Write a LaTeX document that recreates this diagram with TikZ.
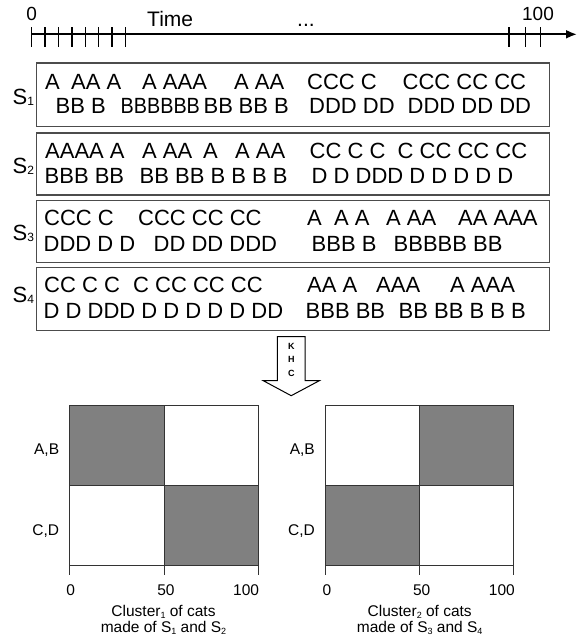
\documentclass[tikz,border=0pt]{standalone}
\usepackage{fontspec}
\setmainfont{Liberation Sans}
\usetikzlibrary{arrows.meta}
\newcommand\rowfont{\fontsize{22}{22}\selectfont}
\newcommand\labsub[1]{\raisebox{-1.5pt}{\fontsize{12}{12}\selectfont #1}}
\newcommand\smsub[1]{\raisebox{-2.5pt}{\fontsize{9}{9}\selectfont #1}}
\begin{document}
\begin{tikzpicture}[x=1pt,y=-1pt,
  seqbox/.style={draw=black!70, line width=1.4pt, inner sep=0pt, anchor=north west, minimum width=513pt},
  ev/.style={anchor=base west, inner sep=0pt, font=\rowfont},
  slab/.style={anchor=base west, inner sep=0pt, font=\rowfont},
  tickline/.style={line width=1.3pt},
  cell/.style={draw=black!80, line width=0.9pt, fill=white},
  darkcell/.style={draw=black!80, line width=0.9pt, fill=gray},
  lab/.style={inner sep=0pt, font=\fontsize{15.5}{15.5}\selectfont},
  toplab/.style={inner sep=0pt, anchor=base, font=\fontsize{19}{19}\selectfont}]
\useasboundingbox (0,0) rectangle (585,640);

% ---------- time axis ----------
\coordinate (t0) at (31.7,34.3);
\coordinate (tend) at (577,34.3);
\draw[line width=2pt, -{Latex[length=11pt,width=9pt]}] (t0) -- (tend);
\foreach \x in {31.7,45.1,58.5,71.9,85.3,98.7,112.1,125.5,509,525.7,540.7}
  \draw[tickline] (\x,27.3) -- (\x,47.3);
\node[toplab] (zero) at (31.7,20) {0};
\node[toplab] (hundred) at (538,20.5) {100};
\node[anchor=base west, inner sep=0pt, font=\fontsize{21}{21}\selectfont] (time) at (147,26.5) {Time};
\node[anchor=base west, inner sep=0pt, font=\fontsize{21}{21}\selectfont] (dots) at (297,26) {...};

% ---------- sequence boxes ----------
\node[seqbox, minimum height=63.4pt] (box1) at (36,62.3) {};
\node[seqbox, minimum height=62pt] (box2) at (36,132.3) {};
\node[seqbox, minimum height=62.5pt] (box3) at (36,199.5) {};
\node[seqbox, minimum height=63pt] (box4) at (36,267) {};

\node[slab] (s1) at (12.5,104) {S\labsub{1}};
\node[slab] (s2) at (12.5,173.3) {S\labsub{2}};
\node[slab] (s3) at (12.5,240) {S\labsub{3}};
\node[slab] (s4) at (12.5,302.3) {S\labsub{4}};

% S1
\node[ev] (b1a1) at (45,89.3) {A};
\node[ev] (b1a2) at (71,89.3) {AA A};
\node[ev] (b1a3) at (142,89.3) {A AAA};
\node[ev] (b1a4) at (234,89.3) {A AA};
\node[ev] (b1a5) at (307,89.3) {CCC C};
\node[ev] (b1a6) at (402.5,89.3) {CCC CC CC};
\node[ev] (b1b1) at (55.5,113.3) {BB B};
\node[ev] (b1b2) at (120.5,113.3) {\scalebox{0.9}[1]{BBBBBB}};
\node[ev] (b1b3) at (203.5,113.3) {BB};
\node[ev] (b1b4) at (238.5,113.3) {BB B};
\node[ev] (b1b5) at (309,113.3) {DDD DD};
\node[ev] (b1b6) at (407.5,113.3) {DDD DD DD};
% S2
\node[ev] (b2a1) at (45,158.3) {AAAA A};
\node[ev] (b2a2) at (142,158.3) {A AA};
\node[ev] (b2a3) at (203,158.3) {A};
\node[ev] (b2a4) at (235,158.3) {A AA};
\node[ev] (b2a5) at (309.5,158.3) {CC C C};
\node[ev] (b2a6) at (397.5,158.3) {C CC CC CC};
\node[ev] (b2b1) at (44.5,183.3) {BBB BB};
\node[ev] (b2b2) at (139.5,183.3) {BB BB B B B B};
\node[ev] (b2b3) at (311.5,183.3) {D D DDD D D D D D};
% S3
\node[ev] (b3a1) at (44,225) {CCC C};
\node[ev] (b3a2) at (138,225) {CCC CC CC};
\node[ev] (b3a3) at (307,225) {A};
\node[ev] (b3a4) at (334,225) {A A};
\node[ev] (b3a5) at (386,225) {A AA};
\node[ev] (b3a6) at (458,225) {AA AAA};
\node[ev] (b3b1) at (43.5,251) {DDD D D};
\node[ev] (b3b2) at (153.5,251) {DD DD DDD};
\node[ev] (b3b3) at (311.5,251) {BBB B};
\node[ev] (b3b4) at (393.5,251) {BBBBB BB};
% S4
\node[ev] (b4a1) at (44,292.3) {CC C C};
\node[ev] (b4a2) at (133,292.3) {C CC CC CC};
\node[ev] (b4a3) at (307,292.3) {AA A};
\node[ev] (b4a4) at (376,292.3) {AAA};
\node[ev] (b4a5) at (450,292.3) {A AAA};
\node[ev] (b4b1) at (43.5,318.3) {D D DDD D D D D D DD};
\node[ev] (b4b2) at (305.5,318.3) {BBB BB};
\node[ev] (b4b3) at (398.5,318.3) {BB BB B B B};

% ---------- KHC arrow ----------
\draw[line width=1pt, fill=white] (277.3,336.7) -- (277.3,380.7) -- (263.3,380.7) -- (291.2,395.7)
  -- (319.3,380.7) -- (305,380.7) -- (305,336.7) -- cycle;
\node[inner sep=0pt, font=\bfseries\fontsize{9}{9}\selectfont] (k) at (291.3,346) {K};
\node[inner sep=0pt, font=\bfseries\fontsize{9}{9}\selectfont] (h) at (291.3,359.5) {H};
\node[inner sep=0pt, font=\bfseries\fontsize{9}{9}\selectfont] (c) at (291.3,373) {C};

% ---------- left heat map ----------
\draw[darkcell] (69.3,405.7) rectangle (164,485.7);
\draw[cell] (164,405.7) rectangle (258.3,485.7);
\draw[cell] (69.3,485.7) rectangle (164,565);
\draw[darkcell] (164,485.7) rectangle (258.3,565);
\draw[line width=1pt, black!80] (69.3,565) -- (258.3,565);
\draw[tickline, black!80, line width=1pt] (69.3,557) -- (69.3,575);
\draw[tickline, black!80, line width=1pt] (164,565) -- (164,575);
\draw[tickline, black!80, line width=1pt] (258.3,557) -- (258.3,575);
\node[lab, anchor=base east] (lab1) at (59.3,454.3) {A,B};
\node[lab, anchor=base east] (lcd1) at (59.3,535) {C,D};
\node[lab, anchor=base] (lx0) at (70.7,595.7) {0};
\node[lab, anchor=base] (lx50) at (166,595.7) {50};
\node[lab, anchor=base east] (lx100) at (259.3,595.7) {100};
\node[lab, anchor=base] (lcap1) at (163.5,616) {Cluster\smsub{1} of cats};
\node[lab, anchor=base] (lcap2) at (163.5,632.3) {made of S\smsub{1} and S\smsub{2}};

% ---------- right heat map ----------
\draw[cell] (325,405.7) rectangle (419.3,485.7);
\draw[darkcell] (419.3,405.7) rectangle (513.3,485.7);
\draw[darkcell] (325,485.7) rectangle (419.3,565);
\draw[cell] (419.3,485.7) rectangle (513.3,565);
\draw[line width=1pt, black!80] (325,565) -- (513.3,565);
\draw[tickline, black!80, line width=1pt] (325,557) -- (325,575);
\draw[tickline, black!80, line width=1pt] (419.3,565) -- (419.3,575);
\draw[tickline, black!80, line width=1pt] (513.3,557) -- (513.3,575);
\node[lab, anchor=base east] (rab) at (315,454.3) {A,B};
\node[lab, anchor=base east] (rcd) at (315,535) {C,D};
\node[lab, anchor=base] (rx0) at (327,595.7) {0};
\node[lab, anchor=base] (rx50) at (421.7,595.7) {50};
\node[lab, anchor=base east] (rx100) at (515,595.7) {100};
\node[lab, anchor=base] (rcap1) at (419.7,616) {Cluster\smsub{2} of cats};
\node[lab, anchor=base] (rcap2) at (419.7,632.3) {made of S\smsub{3} and S\smsub{4}};
\end{tikzpicture}
\end{document}
